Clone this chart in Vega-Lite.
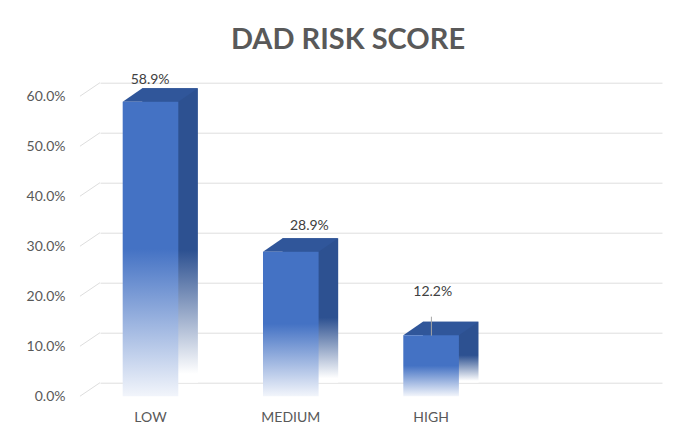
{
  "$schema": "https://vega.github.io/schema/vega-lite/v6.json",
  "width": 562,
  "height": 300,
  "autosize": "none",
  "padding": {"left": 100, "top": 82.7, "right": 38, "bottom": 62.3},
  "background": "white",
  "config": {"view": {"stroke": null}, "font": "Lato"},
  "title": {
    "text": "DAD RISK SCORE",
    "font": "Lato",
    "fontSize": 29,
    "fontWeight": "bold",
    "color": "#595959",
    "anchor": "middle",
    "dx": -33,
    "dy": 39,
    "offset": 34.4,
    "baseline": "alphabetic"
  },
  "datasets": {
    "scores": [
      {"category": "LOW", "value": 0.589},
      {"category": "MEDIUM", "value": 0.289},
      {"category": "HIGH", "value": 0.122}
    ],
    "grid": [
      {"tick": 0}, {"tick": 0.1}, {"tick": 0.2}, {"tick": 0.3},
      {"tick": 0.4}, {"tick": 0.5}, {"tick": 0.6}
    ]
  },
  "data": {"name": "scores"},
  "layer": [
    {
      "description": "Slanted front edges of the gridlines (perspective floor)",
      "data": {"name": "grid"},
      "mark": {
        "type": "point",
        "shape": "M -70.1 0 L -90.1 13.5",
        "size": 4,
        "filled": false,
        "color": "#dedede",
        "strokeWidth": 1,
        "opacity": 1
      },
      "encoding": {
        "x": {"datum": "LOW", "type": "nominal"},
        "y": {"field": "tick", "type": "quantitative"}
      }
    },
    {
      "description": "Rear block: shows as the dark right-hand side face",
      "mark": {
        "type": "bar",
        "color": {
          "gradient": "linear",
          "x1": 0, "y1": 0, "x2": 0, "y2": 1,
          "stops": [
            {"offset": 0, "color": "#2D5191"},
            {"offset": 0.55, "color": "#2D5191"},
            {"offset": 0.97, "color": "#ffffff"},
            {"offset": 1, "color": "#ffffff"}
          ]
        }
      },
      "encoding": {
        "x": {
          "field": "category",
          "type": "nominal",
          "sort": null,
          "scale": {
            "domain": ["LOW", "MEDIUM", "HIGH"],
            "paddingInner": 0.6037,
            "paddingOuter": 0.8047,
            "align": 0.1873
          },
          "axis": {
            "title": null,
            "labelAngle": 0,
            "labelAlign": "center",
            "labelOffset": -19.6,
            "labelPadding": 35,
            "ticks": false,
            "domain": false,
            "grid": false,
            "labelFont": "Lato",
            "labelFontSize": 14,
            "labelColor": "#595959"
          }
        },
        "y": {
          "field": "value",
          "type": "quantitative",
          "scale": {"domain": [0, 0.6], "nice": false, "zero": true},
          "axis": {
            "title": null,
            "values": [0, 0.1, 0.2, 0.3, 0.4, 0.5, 0.6],
            "format": ".1%",
            "grid": true,
            "gridColor": "#dedede",
            "gridWidth": 1,
            "ticks": false,
            "domain": false,
            "labelOffset": 13.5,
            "labelPadding": 35,
            "labelFont": "Lato",
            "labelFontSize": 14,
            "labelColor": "#595959"
          }
        }
      }
    },
    {
      "description": "Top face of each column",
      "mark": {
        "type": "point",
        "shape": "M -47.4 13.5 L 8.2 13.5 L 27.8 0 L -27.8 0 Z",
        "size": 4,
        "filled": true,
        "color": "#30569A",
        "opacity": 1,
        "strokeWidth": 0
      },
      "encoding": {
        "x": {"field": "category", "type": "nominal"},
        "y": {"field": "value", "type": "quantitative"}
      }
    },
    {
      "description": "Front face of each column, fading out towards the floor",
      "mark": {
        "type": "bar",
        "xOffset": -19.6,
        "yOffset": 13.5,
        "y2Offset": 13.5,
        "color": {
          "gradient": "linear",
          "x1": 0, "y1": 0, "x2": 0, "y2": 1,
          "stops": [
            {"offset": 0, "color": "#4472C4"},
            {"offset": 0.5, "color": "#4472C4"},
            {"offset": 1, "color": "#F2F5FB"}
          ]
        }
      },
      "encoding": {
        "x": {"field": "category", "type": "nominal"},
        "y": {"field": "value", "type": "quantitative"}
      }
    },
    {
      "description": "Leader line for the HIGH label",
      "transform": [{"filter": "datum.category === 'HIGH'"}],
      "mark": {
        "type": "rule",
        "color": "#a6a6a6",
        "strokeWidth": 1,
        "xOffset": -19.3,
        "yOffset": -5,
        "y2Offset": 14
      },
      "encoding": {
        "x": {"field": "category", "type": "nominal"},
        "y": {"field": "value", "type": "quantitative"},
        "y2": {"field": "value"}
      }
    },
    {
      "transform": [{"filter": "datum.category === 'LOW'"}],
      "mark": {"type": "text", "font": "Lato", "fontSize": 14, "color": "#404040", "baseline": "middle", "align": "center", "dx": -20, "dy": -8},
      "encoding": {
        "x": {"field": "category", "type": "nominal"},
        "y": {"field": "value", "type": "quantitative"},
        "text": {"field": "value", "type": "quantitative", "format": ".1%"}
      }
    },
    {
      "transform": [{"filter": "datum.category === 'MEDIUM'"}],
      "mark": {"type": "text", "font": "Lato", "fontSize": 14, "color": "#404040", "baseline": "middle", "align": "center", "dx": -1, "dy": -12},
      "encoding": {
        "x": {"field": "category", "type": "nominal"},
        "y": {"field": "value", "type": "quantitative"},
        "text": {"field": "value", "type": "quantitative", "format": ".1%"}
      }
    },
    {
      "transform": [{"filter": "datum.category === 'HIGH'"}],
      "mark": {"type": "text", "font": "Lato", "fontSize": 14, "color": "#404040", "baseline": "middle", "align": "center", "dx": -18, "dy": -30},
      "encoding": {
        "x": {"field": "category", "type": "nominal"},
        "y": {"field": "value", "type": "quantitative"},
        "text": {"field": "value", "type": "quantitative", "format": ".1%"}
      }
    }
  ]
}
